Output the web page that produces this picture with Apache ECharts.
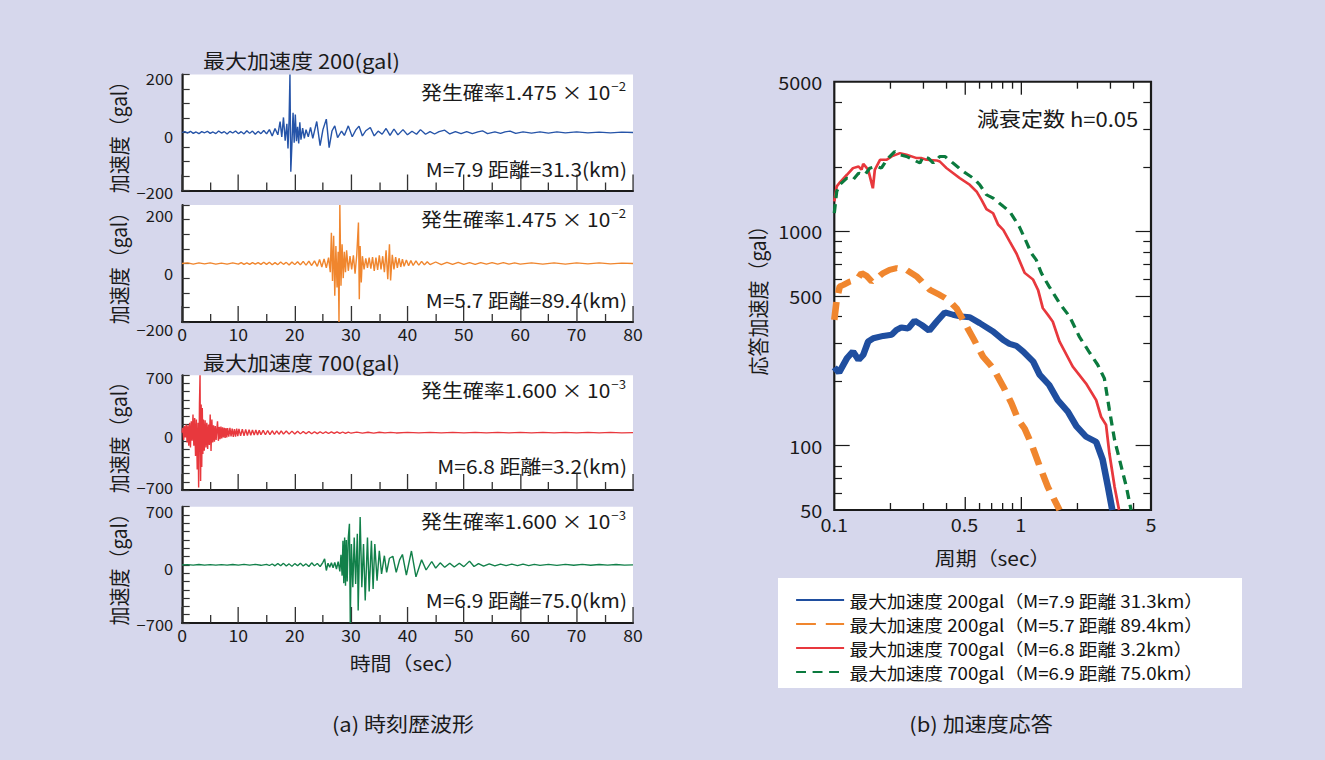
<!DOCTYPE html>
<html>
<head>
<meta charset="utf-8" />
<title>時刻歴波形と加速度応答</title>
<script src="https://cdn.jsdelivr.net/npm/echarts@6/dist/echarts.min.js"></script>
<style>
    * { margin: 0; padding: 0; box-sizing: border-box; }
    body { background: #d6d7ec; width: 1325px; height: 760px; overflow: hidden; }
    /* the source picture is a little wider than tall in its glyphs, so stretch */
    #chart { width: 1204.5px; height: 760px; transform: scaleX(1.1); transform-origin: 0 0; }
</style>
</head>
<body>
<div id="chart"></div>
<script>
// ---- time histories: [sec, gal] ----
const wave1 = [[0,0],[0.5,3],[1,-2],[1.5,4],[2,-3],[2.5,2],[3,-4],[3.5,3],[4,-1],[4.5,4],[5,-3],[5.5,2],[6,-4],[6.5,5],[7,-2],[7.5,3],[8,-5],[8.5,4],[9,-2],[9.5,5],[10,-4],[10.5,3],[11,-5],[11.5,6],[12,-3],[12.5,5],[13,-6],[13.5,4],[14,-4],[14.5,7],[15,-5],[15.5,10],[16,-12],[16.5,14],[17,-8],[17.4,38],[17.7,-15],[18,52],[18.3,-28],[18.6,30],[18.8,-55],[19.0,45],[19.15,200],[19.3,-135],[19.5,-40],[19.7,68],[19.9,-35],[20.1,62],[20.3,-30],[20.5,20],[20.7,-38],[20.9,35],[21.1,-25],[21.4,15],[21.7,-20],[22.0,10],[22.4,-15],[22.8,18],[23.2,-20],[23.9,38],[24.5,-45],[25.0,10],[25.6,46],[26.1,-52],[26.6,5],[27.1,23],[27.6,-18],[28.3,5],[28.8,-10],[29.5,23],[30.2,-15],[30.8,8],[31.4,22],[32.0,-12],[32.6,6],[33.4,17],[34.1,-12],[34.8,5],[35.5,-6],[36.2,14],[36.9,-10],[37.6,12],[38.3,-8],[39.2,10],[40.0,-8],[40.8,4],[41.6,-6],[42.3,10],[43.2,-6],[44,3],[44.8,-5],[45.6,3],[46.6,8],[47.5,-5],[48.5,3],[49.5,-4],[50.5,3],[51.5,-4],[52.5,2],[53.3,6],[54.2,-4],[55.5,2],[56.5,-3],[57.3,2],[58.2,5],[59.2,-3],[60.5,2],[62,-2],[63.5,2],[65,-2],[66.5,2],[68,-1],[70,2],[72,-1],[74,1],[76,-1],[78,1],[80,0]];
const wave2 = [[0,0],[1,2],[2,-2],[3,2],[4,-1],[5,2],[6,-2],[7,1],[8,-2],[9,2],[10,-2],[10.5,3],[11,-3],[11.5,2],[12,-3],[12.5,3],[13,-2],[13.5,3],[14,-3],[14.5,4],[15,-3],[15.5,4],[16,-4],[16.5,3],[17,-4],[17.5,5],[18,-3],[18.5,4],[19,-5],[19.5,5],[20,-4],[20.5,6],[21,-5],[21.5,7],[22,-6],[22.5,8],[23,-7],[23.5,9],[24,-10],[24.4,14],[24.8,-12],[25.2,16],[25.6,-15],[26,20],[26.3,-30],[26.5,105],[26.7,-60],[26.9,95],[27.1,-110],[27.3,60],[27.5,-82],[27.7,40],[27.85,-200],[28.0,200],[28.2,-76],[28.4,66],[28.6,-50],[28.8,40],[29.0,-30],[29.2,45],[29.5,-25],[29.8,25],[30.1,-20],[30.4,28],[30.7,-35],[31.0,30],[31.3,140],[31.45,-122],[31.6,60],[31.8,-65],[32.0,25],[32.3,-20],[32.6,18],[32.9,-15],[33.2,20],[33.5,-18],[33.8,22],[34.1,-25],[34.4,20],[34.7,-22],[35.0,28],[35.3,-20],[35.6,25],[35.9,-30],[36.2,45],[36.5,-54],[36.8,66],[37.0,-58],[37.3,30],[37.6,-20],[37.9,22],[38.2,-15],[38.5,18],[38.8,-12],[39.1,15],[39.4,-10],[39.8,12],[40.2,-8],[40.6,10],[41,-7],[41.5,9],[42,-6],[42.5,7],[43,-5],[43.5,6],[44,-4],[45,5],[46,-4],[47,4],[48,-3],[49,4],[50,-3],[51,3],[52,-3],[53,3],[54,-2],[55,3],[56,-2],[57,3],[58,-2],[59,2],[60,-2],[62,2],[64,-2],[66,2],[68,-2],[70,2],[72,-1],[74,2],[76,-1],[78,1],[80,0]];
const wave3 = [[0,0],[0.15,60],[0.3,-90],[0.45,80],[0.6,-60],[0.75,100],[0.9,-120],[1.05,90],[1.2,-160],[1.35,120],[1.5,-180],[1.65,140],[1.8,-100],[1.95,220],[2.1,-160],[2.25,180],[2.4,-285],[2.55,160],[2.7,-450],[2.85,120],[2.95,-670],[3.1,350],[3.2,700],[3.3,-590],[3.4,345],[3.5,-420],[3.6,300],[3.7,-260],[3.8,160],[3.95,-220],[4.1,150],[4.25,-180],[4.4,120],[4.55,-200],[4.7,100],[4.85,-150],[5.0,220],[5.15,-225],[5.3,160],[5.45,-120],[5.6,90],[5.75,-110],[5.9,80],[6.05,-90],[6.2,60],[6.3,140],[6.45,-100],[6.6,70],[6.75,-80],[6.9,75],[7.05,-70],[7.2,65],[7.35,-60],[7.5,60],[7.65,-65],[7.8,55],[7.95,-60],[8.1,55],[8.3,-50],[8.5,58],[8.7,-45],[8.9,50],[9.1,-52],[9.3,45],[9.5,-48],[9.7,50],[9.9,-42],[10.1,45],[10.4,-40],[10.7,42],[11,-38],[11.3,40],[11.6,-35],[11.9,36],[12.2,-32],[12.5,34],[12.8,-30],[13.1,32],[13.4,-28],[13.7,30],[14,-26],[14.4,28],[14.8,-25],[15.2,26],[15.6,-24],[16,24],[16.4,-22],[16.8,22],[17.2,-20],[17.6,21],[18,-19],[18.5,20],[19,-18],[19.5,18],[20,-16],[20.5,17],[21,-15],[21.5,15],[22,-14],[22.5,14],[23,-13],[23.5,12],[24,-12],[24.5,12],[25,-11],[25.5,10],[26,-10],[26.5,10],[27,-9],[27.5,9],[28,-8],[28.5,8],[29,-8],[29.5,7],[30,-7],[31,6],[32,-6],[33,5],[34,-5],[35,5],[36,-4],[37,4],[38,-4],[40,3],[42,-3],[44,3],[46,-3],[48,3],[50,-3],[52,3],[54,-3],[56,3],[58,-3],[60,3],[62,-3],[64,3],[66,-3],[68,3],[70,-3],[72,3],[74,-3],[76,3],[78,-3],[80,0]];
const wave4 = [[0,0],[1,3],[2,-3],[3,4],[4,-3],[5,3],[6,-4],[7,3],[8,-3],[9,4],[10,-4],[11,5],[12,-4],[13,5],[14,-5],[15,6],[15.5,-8],[16,10],[16.5,-12],[17,15],[17.5,-10],[18,18],[18.5,-14],[19,12],[19.5,-18],[20,15],[20.5,-10],[21,20],[21.5,-15],[22,12],[22.5,-20],[23,25],[23.5,-12],[24,18],[24.5,-22],[25,30],[25.3,72],[25.6,-68],[25.9,20],[26.2,-30],[26.5,25],[26.8,-35],[27.1,30],[27.4,-50],[27.7,40],[28.0,-80],[28.2,120],[28.4,-130],[28.55,290],[28.7,-220],[28.85,330],[29.0,-250],[29.15,300],[29.3,-200],[29.5,330],[29.7,495],[29.85,-700],[30.05,250],[30.3,-270],[30.55,330],[30.8,-230],[31.1,375],[31.25,-550],[31.6,575],[31.9,-270],[32.2,250],[32.5,-430],[32.9,330],[33.2,-320],[33.6,290],[33.9,-290],[34.2,250],[34.6,-190],[35.0,170],[35.4,-110],[35.9,110],[36.3,-90],[36.8,80],[37.4,104],[38.0,-91],[38.6,60],[39.1,125],[39.8,-125],[40.7,167],[41.5,-145],[42.5,62],[43.3,-62],[44.3,40],[45.0,-40],[45.8,25],[46.6,-30],[47.5,20],[48.3,-25],[49.2,20],[50.0,-22],[51.0,45],[51.8,-20],[52.6,15],[53.5,-15],[54.5,12],[55.5,-12],[56.5,10],[57.5,-10],[58.5,8],[59.5,-10],[60.5,8],[61.5,-8],[62.5,6],[63.5,-7],[65,6],[66.5,-6],[68,5],[69.5,-5],[71,5],[72.5,-5],[74,4],[75.5,-4],[77,4],[78.5,-3],[80,0]];

// ---- response spectra: [period sec, gal] ----
const spec1 = [[0.1,232],[0.106,219],[0.117,256],[0.126,275],[0.135,251],[0.143,265],[0.152,306],[0.162,317],[0.183,325],[0.203,329],[0.216,347],[0.229,356],[0.249,352],[0.270,383],[0.294,366],[0.323,344],[0.354,379],[0.392,419],[0.434,408],[0.480,400],[0.533,397],[0.603,373],[0.711,341],[0.807,311],[0.873,298],[0.948,292],[1.03,275],[1.166,247],[1.264,214],[1.42,192],[1.58,163],[1.79,144],[1.99,123],[2.24,110],[2.54,104],[2.75,86],[2.94,64],[3.10,50]];
const spec2 = [[0.1,386],[0.103,479],[0.107,553],[0.112,563],[0.121,583],[0.132,594],[0.140,639],[0.149,620],[0.159,583],[0.169,605],[0.183,639],[0.198,661],[0.216,674],[0.244,661],[0.277,616],[0.312,553],[0.326,533],[0.368,505],[0.408,479],[0.452,438],[0.501,373],[0.556,317],[0.628,260],[0.711,230],[0.807,188],[0.891,158],[0.97,132],[1.05,120],[1.14,102],[1.264,80],[1.398,64],[1.615,50]];
const spec3 = [[0.1,1380],[0.103,1620],[0.107,1690],[0.117,1840],[0.126,1975],[0.135,2010],[0.140,1940],[0.143,2070],[0.152,1940],[0.161,1590],[0.165,1940],[0.176,2160],[0.191,2160],[0.203,2240],[0.225,2320],[0.244,2280],[0.277,2200],[0.294,2200],[0.312,2160],[0.354,2145],[0.368,2120],[0.400,1975],[0.470,1775],[0.533,1650],[0.580,1535],[0.616,1405],[0.655,1270],[0.711,1215],[0.757,1075],[0.807,1015],[0.873,897],[0.948,790],[1.05,640],[1.166,595],[1.239,533],[1.314,438],[1.398,408],[1.486,379],[1.615,306],[1.9,234],[2.24,195],[2.54,163],[2.70,136],[2.87,125],[2.99,92],[3.19,64],[3.37,50]];
const spec4 = [[0.1,1217],[0.103,1536],[0.107,1651],[0.117,1774],[0.126,1741],[0.135,1872],[0.146,1838],[0.155,1975],[0.169,2012],[0.179,1975],[0.191,2160],[0.211,2362],[0.225,2280],[0.244,2238],[0.265,2160],[0.288,2085],[0.300,2238],[0.319,2200],[0.339,2085],[0.368,2238],[0.392,2238],[0.434,2085],[0.491,1905],[0.556,1774],[0.603,1651],[0.655,1482],[0.711,1430],[0.807,1307],[0.873,1239],[0.982,1054],[1.07,897],[1.14,791],[1.21,737],[1.29,639],[1.42,553],[1.46,533],[1.615,462],[1.83,400],[2.06,323],[2.32,275],[2.59,238],[2.81,206],[2.99,147],[3.19,106],[3.46,80],[3.69,64],[3.91,50]];

const specNames = [
    '最大加速度 200gal（M=7.9 距離 31.3km）',
    '最大加速度 200gal（M=5.7 距離 89.4km）',
    '最大加速度 700gal（M=6.8 距離 3.2km）',
    '最大加速度 700gal（M=6.9 距離 75.0km）'
];
const probTexts = ['1.475 × 10', '1.475 × 10', '1.600 × 10', '1.600 × 10'];
const probExps = ['−2', '−2', '−3', '−3'];
const quakeTexts = ['M=7.9 距離=31.3(km)', 'M=5.7 距離=89.4(km)', 'M=6.8 距離=3.2(km)', 'M=6.9 距離=75.0(km)'];

// tick values
const timeLabels = [0, 10, 20, 30, 40, 50, 60, 70, 80];
const periodLabels = [0.1, 0.5, 1, 5];
const periodMajor = [0.5, 1];
const periodMinor = [0.2, 0.3, 0.4, 0.6, 0.7, 0.8, 0.9, 2, 3, 4];
const accLabels = [50, 100, 500, 1000, 5000];
const accMajor = [100, 500, 1000];
const accMinor = [60, 70, 80, 200, 300, 400, 600, 700, 800, 900, 2000, 3000, 4000];

const SX = 1.1;
const px = v => v / SX;
const FONT = "'Noto Sans CJK JP', 'Noto Sans', sans-serif";
const INK = '#1a1a1a';
const waveColors = ['#2654a8', '#f0862e', '#e8383d', '#12804a'];

const chart = echarts.init(document.getElementById('chart'), null, { renderer: 'svg' });

const waveTops = [74.5, 205, 375.3, 506.7];
const waveHeights = [116, 117, 114.7, 116.3];
const waveLims = [200, 200, 700, 700];
// label nudges (top pad, bottom pad) for [max, zero, min] labels of each panel
const labelPads = [
    [[8, 0], [8, 0], [4, 0]],
    [[22, 0], [20, 0], [16, 0]],
    [[6, 0], [8, 0], [0, 4]],
    [[10, 0], [8, 0], [4, 0]]
];

const grids = waveTops.map((t, i) => ({
    left: px(182), width: px(451), top: t, height: waveHeights[i],
    show: true, backgroundColor: '#fff', borderWidth: 0
}));
grids.push({ left: px(834.3), width: px(316.7), top: 81.7, height: 428.3,
    show: true, backgroundColor: '#fff', borderColor: INK, borderWidth: 2 });

const minusFmt = v => (v < 0 ? '−' + (-v) : String(v));
const richFor = p => ({ fontSize: 15, color: INK, fontFamily: FONT, padding: [p[0], 0, p[1], 0] });

const xAxes = waveTops.map((t, i) => ({
    type: 'value', gridIndex: i, min: 0, max: 80, interval: 10,
    axisLine: { show: true, onZero: false, lineStyle: { color: INK, width: 2 } },
    axisTick: { show: true, inside: true, length: 16, lineStyle: { color: '#333', width: 1.2 } },
    minorTick: { show: true, splitNumber: 2, length: 8, lineStyle: { color: '#333', width: 1.2 } },
    axisLabel: { show: i === 1 || i === 3, customValues: timeLabels, margin: 4, fontSize: 16, color: INK },
    splitLine: { show: false },
    name: i === 3 ? '時間（sec）' : '',
    nameLocation: 'middle', nameGap: 30,
    nameTextStyle: { fontSize: 19, color: INK }
}));
const yAxes = waveTops.map((t, i) => ({
    type: 'value', gridIndex: i, min: -waveLims[i], max: waveLims[i], interval: waveLims[i] === 200 ? 50 : 100,
    axisLine: { show: true, onZero: false, lineStyle: { color: INK, width: 2 } },
    axisTick: { show: true, inside: true, length: 7, lineStyle: { color: '#333', width: 1.2 } },
    axisLabel: { customValues: [-waveLims[i], 0, waveLims[i]],
        formatter: v => '{' + (v > 0 ? 'hi' : v < 0 ? 'lo' : 'mid') + '|' + minusFmt(v) + '}',
        margin: 8,
        rich: { hi: richFor(labelPads[i][0]), mid: richFor(labelPads[i][1]), lo: richFor(labelPads[i][2]) } },
    splitLine: { show: false },
    name: '加速度（gal）', nameLocation: 'middle', nameGap: 49,
    nameTextStyle: { fontSize: 19, color: INK }
}));

function specX(pos, ticks, len, labels) {
    return {
        type: 'log', logBase: 10, gridIndex: 4, position: pos, min: 0.1, max: 5,
        axisLine: { show: false }, splitLine: { show: false }, minorTick: { show: false },
        axisTick: { show: true, inside: true, length: len, customValues: ticks, lineStyle: { color: INK, width: 1.2 } },
        axisLabel: labels ? { show: true, customValues: labels, formatter: v => String(v), fontSize: 18, color: INK, margin: 5 } : { show: false },
        name: labels ? '周期（sec）' : '', nameLocation: 'middle', nameGap: 38,
        nameTextStyle: { fontSize: 19, color: INK }
    };
}
function specY(pos, ticks, len, labels) {
    return {
        type: 'log', logBase: 10, gridIndex: 4, position: pos, min: 50, max: 5000,
        axisLine: { show: false }, splitLine: { show: false }, minorTick: { show: false },
        axisTick: { show: true, inside: true, length: len, customValues: ticks, lineStyle: { color: INK, width: 1.2 } },
        axisLabel: labels ? { show: true, customValues: labels, formatter: v => String(v), fontSize: 18, color: INK, margin: 11 } : { show: false },
        name: labels ? '応答加速度（gal）' : '', nameLocation: 'middle', nameGap: 61,
        nameTextStyle: { fontSize: 19, color: INK }
    };
}
xAxes.push(specX('bottom', periodMajor, 13, periodLabels), specX('bottom', periodMinor, 7),
           specX('top', periodMajor, 13), specX('top', periodMinor, 7));
yAxes.push(specY('left', accMajor, 14, accLabels), specY('left', accMinor, 7),
           specY('right', accMajor, 14), specY('right', accMinor, 7));

const waves = [wave1, wave2, wave3, wave4];
const series = waves.map((w, i) => ({
    type: 'line', xAxisIndex: i, yAxisIndex: i, data: w, symbol: 'none', silent: true,
    lineStyle: { width: 1.3, color: waveColors[i] }, itemStyle: { color: waveColors[i] }
}));
const specStyles = [
    { color: '#1f4e9f', width: 6, type: 'solid' },
    { color: '#f0862e', width: 6, type: [18, 9] },
    { color: '#e8383d', width: 2.5, type: 'solid' },
    { color: '#0b7a3e', width: 3, type: [9, 6] }
];
[spec1, spec2, spec3, spec4].forEach((s, i) => series.push({
    name: specNames[i], type: 'line', xAxisIndex: 4, yAxisIndex: 4, data: s, symbol: 'none',
    lineStyle: specStyles[i], itemStyle: { color: specStyles[i].color }
}));

function txt(x, y, text, size, align) {
    return { type: 'text', x: px(x), y: y, z: 10,
        style: { text: text, fill: INK, fontSize: size, fontFamily: FONT,
            align: align || 'left', textAlign: align || 'left', verticalAlign: 'middle', textVerticalAlign: 'middle' } };
}
const annY = [[92, 169], [219, 300], [390, 466], [521, 600]];
const graphics = [
    { type: 'rect', z: -1, shape: { x: px(778), y: 578, width: px(464), height: 110 }, style: { fill: '#fff' } },
    txt(203, 60, '最大加速度 200(gal)', 20),
    txt(203, 362, '最大加速度 700(gal)', 20),
    txt(977, 118, '減衰定数 h=0.05', 20),
    txt(403, 723, '(a) 時刻歴波形', 20, 'center'),
    txt(981, 723, '(b) 加速度応答', 20, 'center')
];
annY.forEach((ys, i) => {
    graphics.push({ type: 'text', x: px(626), y: ys[0], z: 10,
        style: { text: '{a|発生確率' + probTexts[i] + '}{s|' + probExps[i] + '}',
            align: 'right', textAlign: 'right', verticalAlign: 'middle', textVerticalAlign: 'middle',
            rich: {
                a: { fontSize: 19, lineHeight: 24, fontFamily: FONT, fill: INK, color: INK },
                s: { fontSize: 12, lineHeight: 12, verticalAlign: 'top', fontFamily: FONT, fill: INK, color: INK, padding: [0, 0, 0, 1] }
            } } });
    graphics.push(txt(627, ys[1], quakeTexts[i], 19, 'right'));
});

chart.setOption({
    animation: false,
    textStyle: { fontFamily: FONT },
    grid: grids,
    xAxis: xAxes,
    yAxis: yAxes,
    legend: {
        data: specNames, orient: 'vertical', left: px(795), top: 588, padding: 0,
        itemWidth: px(48), itemHeight: 24, itemGap: 0,
        itemStyle: { opacity: 0 },
        textStyle: { fontSize: 17, color: '#111', lineHeight: 24 }
    },
    graphic: graphics,
    series: series
});
</script>
</body>
</html>
